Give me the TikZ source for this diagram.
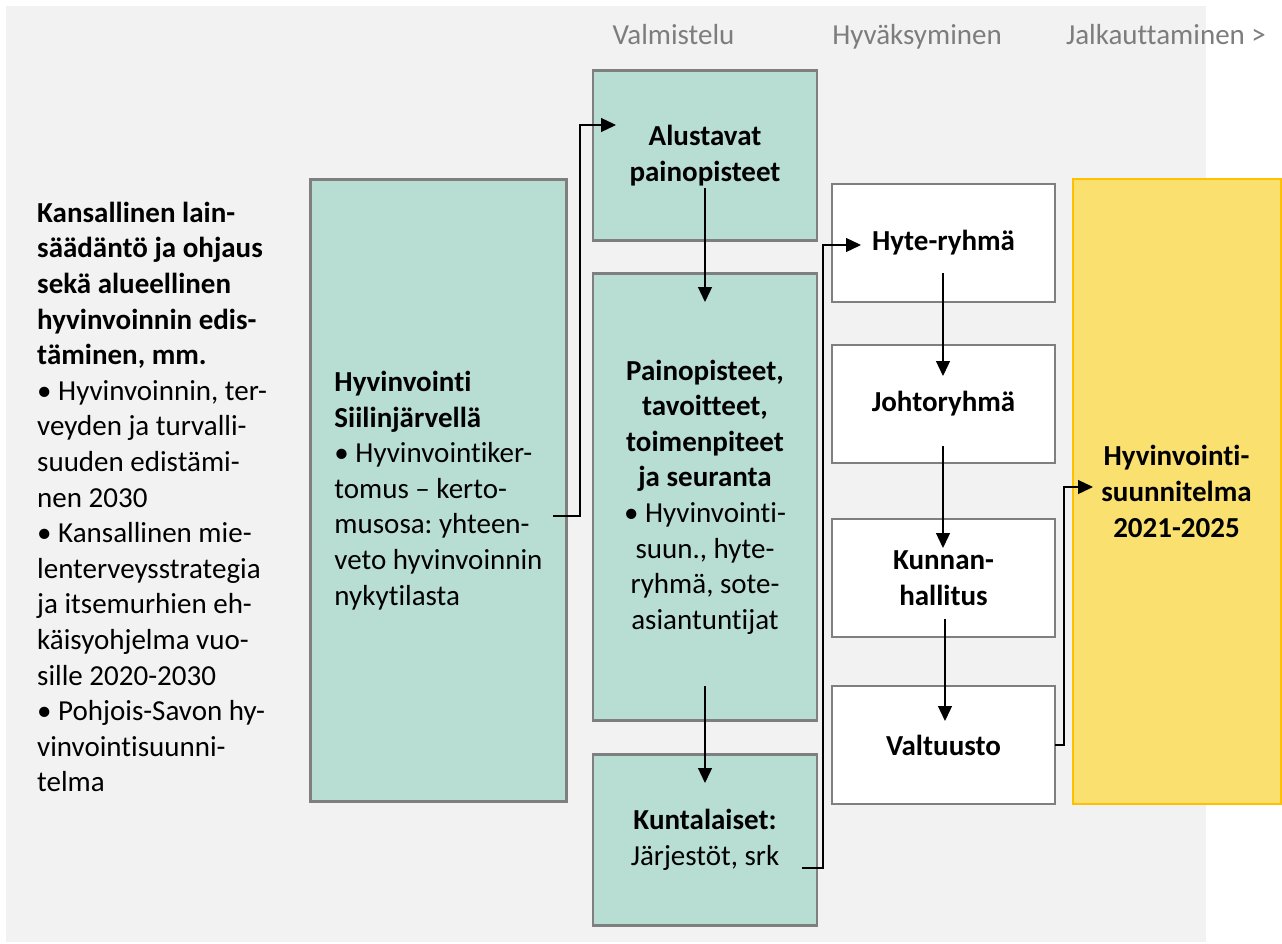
\documentclass[tikz,border=0pt]{standalone}
\usepackage{fontspec}
\setmainfont{Carlito}[RawFeature=-liga]
\usetikzlibrary{arrows.meta}
\definecolor{bggray}{RGB}{242,242,242}
\definecolor{boxgreen}{RGB}{184,221,211}
\definecolor{boxborder}{RGB}{127,127,127}
\definecolor{boxyellow}{RGB}{250,224,110}
\definecolor{yellowborder}{RGB}{255,192,0}
\definecolor{headgray}{RGB}{125,125,125}
\begin{document}
\frenchspacing
\begin{tikzpicture}[x=1pt,y=-1pt,
  every node/.style={font=\fontsize{29}{35.6}\selectfont\frenchspacing, inner sep=0pt},
  basebox/.style={draw=boxborder, line width=2.4pt, align=center},
  greenbox/.style={basebox, fill=boxgreen, minimum width=224pt},
  whitebox/.style={basebox, fill=white, minimum width=223pt, minimum height=118pt,
    font=\fontsize{29}{35.6}\selectfont\bfseries},
  yellowbox/.style={draw=yellowborder, line width=2pt, fill=boxyellow, align=center,
    minimum width=208pt, minimum height=624pt, font=\fontsize{29}{35.6}\selectfont\bfseries},
  header/.style={anchor=base, text=headgray},
  conn/.style={line width=1.3pt, -{Triangle[length=15pt,width=14pt]}},
]
\useasboundingbox (0,0) rectangle (1282,944);
\fill[white] (0,0) rectangle (1282,944);
\fill[bggray] (6,6) rectangle (1206,942);

% headers
\node[header] (h1) at (673.5,45) {Valmistelu};
\node[header] (h2) at (917,45) {Hyväksyminen};
\node[header] (h3) at (1166,45) {Jalkauttaminen >};

% left text
\node[anchor=west, align=left] (left) at (37,497) {%
\textbf{Kansallinen lain-}\\
\textbf{säädäntö ja ohjaus}\\
\textbf{sekä alueellinen}\\
\textbf{hyvinvoinnin edis-}\\
\textbf{täminen, mm.}\\
• Hyvinvoinnin, ter-\\
veyden ja turvalli-\\
suuden edistämi-\\
nen 2030\\
• Kansallinen mie-\\
lenterveysstrategia\\
ja itsemurhien eh-\\
käisyohjelma vuo-\\
sille 2020-2030\\
• Pohjois-Savon hy-\\
vinvointisuunni-\\
telma};

% green boxes
\node[greenbox, minimum width=256pt, minimum height=622pt, align=left]
  (hyv) at (438.5,490.5) {%
\textbf{Hyvinvointi}\\
\textbf{Siilinjärvellä}\\
• Hyvinvointiker-\\
tomus – kerto-\\
musosa: yhteen-\\
veto hyvinvoinnin\\
nykytilasta};

\node[greenbox, minimum height=170pt, font=\fontsize{29}{35.6}\selectfont\bfseries]
  (alu) at (705,155.5) {Alustavat\\painopisteet};

\node[greenbox, minimum height=447pt] (pain) at (705,497) {%
\textbf{Painopisteet,}\\
\textbf{tavoitteet,}\\
\textbf{toimenpiteet}\\
\textbf{ja seuranta}\\
• Hyvinvointi-\\
suun., hyte-\\
ryhmä, sote-\\
asiantuntijat};

\node[greenbox, minimum height=171pt] (kunta) at (705,840) {%
\textbf{Kuntalaiset:}\\Järjestöt, srk};

% white boxes
\node[whitebox] (hyte) at (943.5,243) {Hyte-ryhmä};
\node[whitebox] (johto) at (943.5,404) {Johtoryhmä};
\node[whitebox] (kunnan) at (943.5,578) {Kunnan-\\hallitus};
\node[whitebox] (valt) at (943.5,745) {Valtuusto};

% yellow box
\node[yellowbox] (plan) at (1176.5,491.5) {Hyvinvointi-\\suunnitelma\\2021-2025};

% connector points
\coordinate (hyvout) at (553,516);
\coordinate (aluin) at (616,125);
\coordinate (aluout) at (705,188);
\coordinate (painin) at (705,302);
\coordinate (painout) at (705,686);
\coordinate (kuntain) at (705,783);
\coordinate (kuntaout) at (802,868);
\coordinate (hytein) at (861,245);
\coordinate (hyteout) at (943,273);
\coordinate (johtoin) at (943,376);
\coordinate (johtoout) at (943,446);
\coordinate (kunnanin) at (943,548);
\coordinate (kunnanout) at (945,619);
\coordinate (valtin) at (945,721);
\coordinate (valtout) at (1055,745);
\coordinate (planin) at (1093,487);

% connectors
\draw[conn] (hyvout) -- ++(27,0) |- (aluin);
\draw[conn] (aluout) -- (painin);
\draw[conn] (painout) -- (kuntain);
\draw[conn] (kuntaout) -- ++(21,0) |- (hytein);
\draw[conn] (hyteout) -- (johtoin);
\draw[conn] (johtoout) -- (kunnanin);
\draw[conn] (kunnanout) -- (valtin);
\draw[conn] (valtout) -- ++(9,0) |- (planin);
\end{tikzpicture}
\end{document}
